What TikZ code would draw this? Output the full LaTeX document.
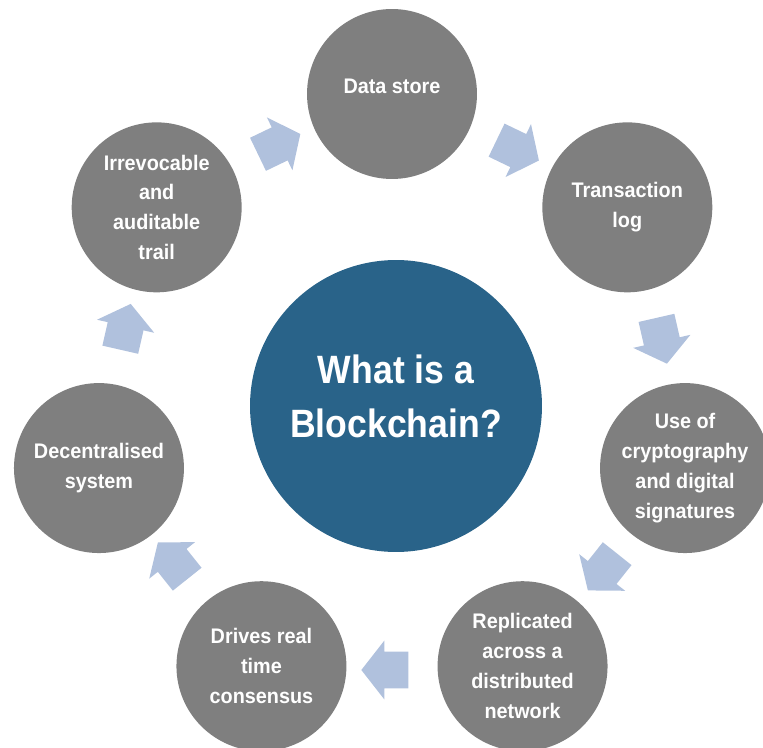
\documentclass[tikz,border=0pt]{standalone}
\usepackage{fontspec}
\setmainfont{Liberation Sans}
\usetikzlibrary{shapes.arrows}
\definecolor{topicgrey}{RGB}{127,127,127}
\definecolor{coreblue}{RGB}{41,99,137}
\definecolor{flowblue}{RGB}{176,193,221}
\tikzset{topic/.style={circle,fill=topicgrey,text=white,minimum size=3.4cm,
                       inner sep=0pt,align=center,
                       font=\addfontfeature{FakeStretch=0.94}\fontsize{12pt}{17pt}\selectfont\bfseries}}
\tikzset{flow/.style={single arrow,fill=flowblue,draw=none,
                      inner xsep=0pt,inner ysep=0.36cm,minimum height=0.94cm,
                      single arrow head extend=0.22cm,
                      single arrow head indent=0pt,single arrow tip angle=104}}

\begin{document}
\begin{tikzpicture}[x=0.02cm,y=0.02cm,
      % central question
      core/.style={circle,fill=coreblue,text=white,minimum size=5.84cm,
                   inner sep=0pt,align=center,text depth=11pt,
                   font=\addfontfeature{FakeStretch=0.9}\fontsize{22.5pt}{30.4pt}\selectfont\bfseries}
    ]
    \useasboundingbox (-392,-352) rectangle (371,395);

    \node[core] (q) at (4,-11) {What is a\\Blockchain?};

    % the seven topics, clockwise from the top
    \node[topic,text depth=9pt] (ds) at (90:301)     {Data store};
    \node[topic] (tl) at (38.57:301)  {Transaction\\log};
    \node[topic] (cg) at (-14:302)    {Use of\\cryptography\\and digital\\signatures};
    \node[topic] (rd) at (-64.29:301) {Replicated\\across a\\distributed\\network};
    \node[topic] (dc) at (-115.71:301){Drives real\\time\\consensus};
    \node[topic] (de) at (-166:302)   {Decentralised\\system};
    \node[topic] (ir) at (141.43:301) {Irrevocable\\and\\auditable\\trail};

    % block arrows between neighbours, pointing clockwise
    \foreach \a [count=\i from 1] in {64.29,12.86,-38.57,-90,-141.43,167.14,115.71}{
      \node[flow,rotate=\a-90] (arr\i) at (\a:275) {};
    }
\end{tikzpicture}
\end{document}
